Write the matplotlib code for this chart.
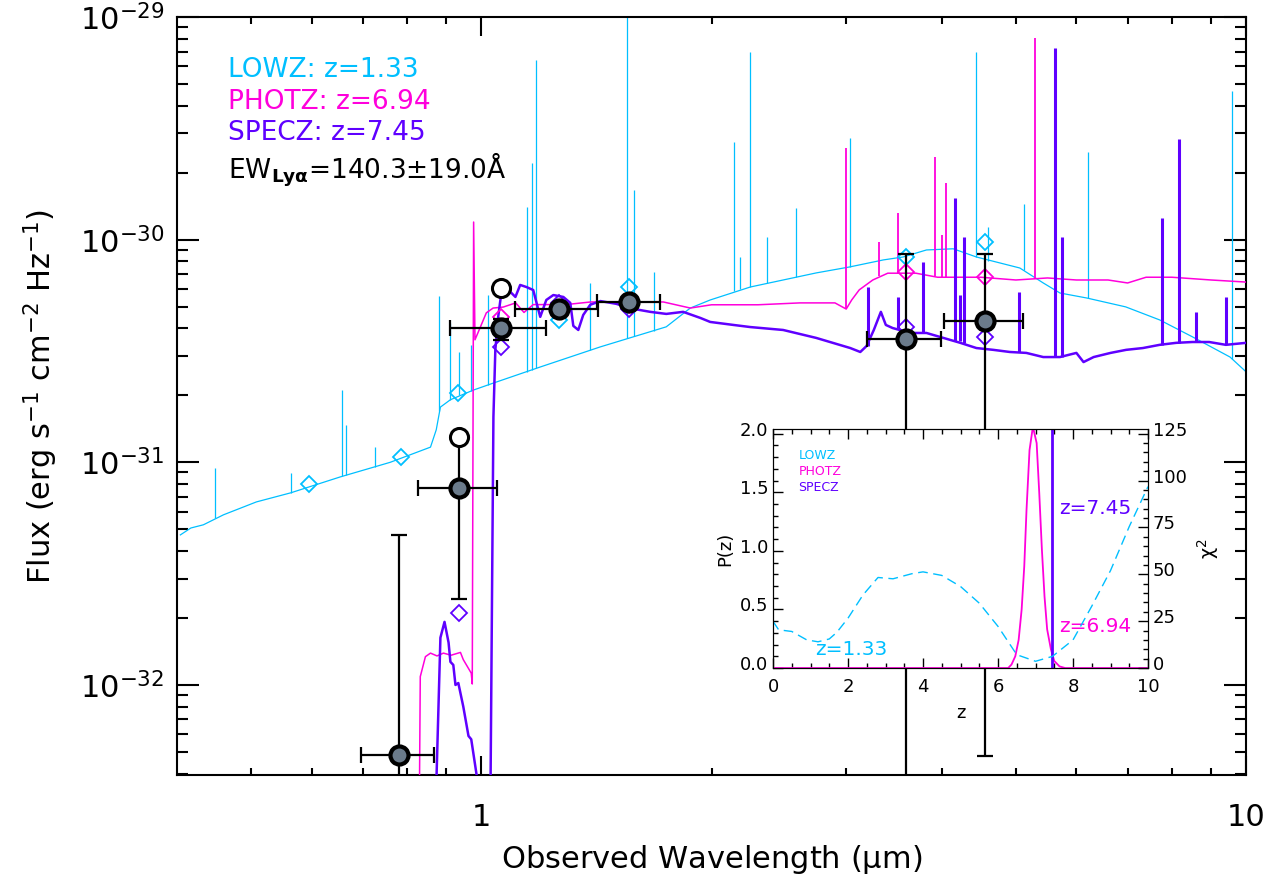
import numpy as np
import matplotlib
matplotlib.use('Agg')
import matplotlib.pyplot as plt
from matplotlib.ticker import FixedLocator, MultipleLocator, NullFormatter, LogLocator, FixedFormatter
from matplotlib.transforms import ScaledTranslation

plt.rcParams['font.family'] = ['DejaVu Sans']
plt.rcParams['mathtext.default'] = 'regular'

C_LOW = '#00bfff'
C_PHOT = '#ff00dc'
C_SPEC = '#5f00ff'
U = 1e-30  # flux unit of the lists below (erg s-1 cm-2 Hz-1)

# ---- LOWZ template, z=1.33 (micron, flux/1e-30)
lowz_wave = [0.404, 0.417, 0.433, 0.460, 0.508, 0.563, 0.654, 0.760, 0.858, 0.873,
             0.884, 0.911, 0.976, 1.037, 1.194, 1.431, 1.745, 1.876, 1.992, 2.248,
             2.741, 3.03, 3.355, 3.56, 3.82, 4.14, 4.44, 5.06, 5.43, 5.71,
             6.19, 6.96, 7.71, 8.51, 9.53, 10.0]
lowz_flux = [0.0472, 0.0507, 0.0524, 0.0581, 0.0664, 0.0729, 0.086, 0.100, 0.117, 0.140,
             0.177, 0.191, 0.211, 0.227, 0.268, 0.330, 0.406, 0.493, 0.536, 0.613,
             0.709, 0.754, 0.811, 0.836, 0.899, 0.91, 0.836, 0.746, 0.639, 0.576,
             0.547, 0.499, 0.436, 0.366, 0.297, 0.255]
# emission lines: wavelength, continuum base, peak
lowz_line_wave = [0.449, 0.563, 0.658, 0.666, 0.727, 0.881, 0.911, 0.936, 0.970, 1.021,
                  1.148, 1.166, 1.180, 1.388, 1.551, 1.585, 1.683, 2.142, 2.18, 2.248,
                  2.365, 2.582, 3.037, 4.44, 4.60, 5.12, 6.22, 9.60]
lowz_line_base = [0.056, 0.073, 0.087, 0.088, 0.095, 0.17, 0.19, 0.20, 0.21, 0.223,
                  0.255, 0.26, 0.264, 0.32, 0.36, 0.37, 0.39, 0.59, 0.60, 0.613,
                  0.64, 0.68, 0.755, 0.84, 0.80, 0.73, 0.545, 0.29]
lowz_line_peak = [0.0944, 0.0896, 0.211, 0.147, 0.117, 0.559, 0.423, 0.313, 0.337, 0.565,
                  1.40, 2.21, 6.41, 0.64, 11.0, 1.67, 0.716, 2.75, 0.836, 6.96,
                  1.03, 1.39, 2.86, 6.96, 1.14, 1.45, 2.48, 4.65]

# ---- PHOTZ template, z=6.94
phot_wave = [0.830, 0.832, 0.845, 0.858, 0.875, 0.892, 0.913, 0.939, 0.947, 0.970,
             0.973, 0.977, 0.981, 0.997, 1.015, 1.036, 1.068, 1.109, 1.137, 1.169,
             1.29, 1.39, 1.55, 1.73, 1.876, 2.0, 2.3, 2.61, 2.90, 3.0,
             3.05, 3.12, 3.25, 3.4, 3.7, 3.95, 4.5, 5.0, 5.5, 6.0,
             6.6, 7.0, 7.4, 8.0, 9.0, 10.0]
phot_flux = [0.0035, 0.0109, 0.0134, 0.0139, 0.0135, 0.0139, 0.0136, 0.0140, 0.0130, 0.0113,
             0.0101, 1.2, 0.355, 0.405, 0.469, 0.493, 0.498, 0.52, 0.471, 0.511,
             0.511, 0.525, 0.525, 0.525, 0.493, 0.51, 0.51, 0.52, 0.52, 0.488,
             0.536, 0.595, 0.659, 0.707, 0.707, 0.678, 0.678, 0.659, 0.673, 0.659,
             0.659, 0.639, 0.678, 0.678, 0.659, 0.645]
phot_line_wave = [3.0, 3.31, 3.51, 3.92, 4.0, 4.05, 5.30]
phot_line_base = [0.49, 0.69, 0.70, 0.69, 0.68, 0.68, 0.665]
phot_line_peak = [2.58, 0.977, 1.32, 2.35, 1.05, 1.8, 8.05]

# ---- SPECZ template, z=7.45
spec_wave = [0.873, 0.884, 0.895, 0.906, 0.911, 0.919, 0.925, 0.933, 0.947, 0.962,
             0.970, 0.991, 1.028, 1.037, 1.043, 1.052, 1.062, 1.068, 1.091, 1.108,
             1.124, 1.145, 1.169, 1.194, 1.216, 1.242, 1.280, 1.307, 1.319, 1.339,
             1.359, 1.388, 1.431, 1.501, 1.580, 1.663, 1.745, 1.836, 1.934, 1.992,
             2.136, 2.248, 2.481, 2.741, 3.037, 3.13, 3.19, 3.26, 3.33, 3.38,
             3.45, 3.64, 3.82, 4.02, 4.23, 4.44, 4.67, 4.91, 5.16, 5.43,
             5.71, 6.00, 6.13, 6.32, 6.65, 6.97, 7.33, 7.71, 8.1, 8.51,
             8.95, 9.41, 10.0]
spec_flux = [0.0035, 0.0163, 0.0192, 0.0155, 0.0127, 0.0123, 0.0100, 0.0102, 0.0080, 0.0059,
             0.0057, 0.0035, 0.0035, 0.16, 0.32, 0.45, 0.577, 0.607, 0.583, 0.553,
             0.626, 0.613, 0.594, 0.45, 0.536, 0.564, 0.553, 0.52, 0.41, 0.393,
             0.459, 0.51, 0.530, 0.515, 0.489, 0.474, 0.464, 0.474, 0.445, 0.427,
             0.414, 0.405, 0.393, 0.362, 0.326, 0.313, 0.333, 0.393, 0.474, 0.414,
             0.401, 0.381, 0.381, 0.362, 0.344, 0.326, 0.320, 0.313, 0.310, 0.297,
             0.297, 0.310, 0.282, 0.297, 0.310, 0.320, 0.326, 0.337, 0.344, 0.347,
             0.347, 0.337, 0.344]
spec_line_wave = [3.2, 3.51, 3.78, 4.16, 4.22, 4.28, 5.04, 5.62, 5.74, 7.76, 8.17, 8.6, 9.4]
spec_line_base = [0.333, 0.40, 0.385, 0.35, 0.35, 0.345, 0.313, 0.297, 0.297, 0.337, 0.344, 0.347, 0.34]
spec_line_peak = [0.613, 0.553, 0.794, 1.54, 0.564, 1.03, 0.583, 7.26, 1.03, 1.25, 2.83, 0.474, 0.553]

# ---- photometry
obs_wave = [0.781, 0.936, 1.062, 1.264, 1.562, 3.594, 4.559]
obs_flux = [0.00485, 0.0767, 0.401, 0.489, 0.525, 0.358, 0.431]
obs_wlo = [0.697, 0.827, 0.911, 1.108, 1.418, 3.196, 4.027]
obs_whi = [0.866, 1.049, 1.216, 1.422, 1.714, 3.993, 5.112]
obs_flo = [0.0001, 0.0243, 0.355, 0.465, 0.495, 0.0001, 0.0048]
obs_fhi = [0.047, 0.126, 0.44, 0.515, 0.555, 0.86, 0.86]
open_wave = [0.936, 1.062]
open_flux = [0.130, 0.607]

# model band fluxes
mod_low_wave = [0.596, 0.784, 0.933, 1.264, 1.562, 3.594, 4.559]
mod_low = [0.080, 0.106, 0.205, 0.436, 0.61, 0.837, 0.98]
mod_wave = [0.936, 1.062, 1.264, 1.562, 3.594, 4.559]
mod_phot = [0.0767, 0.45, 0.49, 0.51, 0.716, 0.68]
mod_spec = [0.021, 0.33, 0.52, 0.49, 0.405, 0.366]

# ---- inset: P(z) and chi2
pz_z = [0, 6.27, 6.36, 6.46, 6.55, 6.63, 6.70, 6.76, 6.84, 6.93, 7.03, 7.10, 7.17,
        7.24, 7.31, 7.41, 7.50, 7.64, 7.79, 10]
pz_p = [0, 0, 0.03, 0.10, 0.24, 0.50, 0.87, 1.35, 1.86, 2.06, 1.92, 1.49, 1.01,
        0.61, 0.33, 0.16, 0.06, 0.014, 0, 0]
chi_z = [0, 0.15, 0.5, 0.9, 1.2, 1.5, 1.7, 2.0, 2.4, 2.8, 3.2, 3.7, 4.0, 4.5, 5.0,
         5.5, 6.0, 6.5, 7.0, 7.45, 8.0, 8.5, 9.0, 9.5, 10]
chi_v = [24.9, 20.4, 19.5, 15.0, 14.0, 15.5, 19.0, 26.6, 39.0, 48.3, 47.6, 50.3, 51.3, 49.4, 43.5,
         34.6, 22.2, 7.1, 3.6, 6.2, 15.0, 33.0, 52.0, 75.5, 96.8]
z_spec = 7.45

fig = plt.figure(figsize=(12.83, 8.82), dpi=100)
ax = fig.add_axes([0.138, 0.1213, 0.8332, 0.8594])

def f(v):
    return np.array(v) * U

ax.plot(lowz_wave, f(lowz_flux), color=C_LOW, lw=0.9, zorder=2)
ax.vlines(lowz_line_wave, f(lowz_line_base), f(lowz_line_peak), color=C_LOW, lw=0.9, zorder=2)
ax.plot(phot_wave, f(phot_flux), color=C_PHOT, lw=1.1, zorder=3)
ax.vlines(phot_line_wave, f(phot_line_base), f(phot_line_peak), color=C_PHOT, lw=1.3, zorder=3)
ax.plot(spec_wave, f(spec_flux), color=C_SPEC, lw=1.8, zorder=4)
ax.vlines(spec_line_wave, f(spec_line_base), f(spec_line_peak), color=C_SPEC, lw=2.2, zorder=4)

dk = dict(ls='none', marker='D', ms=8, mfc='none', mew=1.3, zorder=5)
ax.plot(mod_low_wave, f(mod_low), mec=C_LOW, **dk)
ax.plot(mod_wave, f(mod_phot), mec=C_PHOT, **dk)
ax.plot(mod_wave, f(mod_spec), mec=C_SPEC, **dk)

ow = np.array(obs_wave)
of = f(obs_flux)
xerr = [ow - np.array(obs_wlo), np.array(obs_whi) - ow]
yerr = [of - f(obs_flo), f(obs_fhi) - of]
ax.errorbar(ow, of, xerr=xerr, yerr=yerr, fmt='none', ecolor='black', elinewidth=1.6,
            capsize=6, capthick=1.6, zorder=6)
ax.plot(open_wave, f(open_flux), ls='none', marker='o', ms=13, mfc='white', mec='black',
        mew=2.2, zorder=6)
ax.plot(ow, of, ls='none', marker='o', ms=13, mfc='#6b7b8b', mec='black', mew=3, zorder=7)

ax.set_xscale('log')
ax.set_yscale('log')
ax.set_xlim(0.4, 10)
ax.set_ylim(3.94e-33, 1e-29)
ax.xaxis.set_major_locator(FixedLocator([1, 10]))
ax.xaxis.set_major_formatter(FixedFormatter(['1', '10']))
ax.xaxis.set_minor_locator(FixedLocator([0.5, 0.6, 0.7, 0.8, 0.9, 2, 3, 4, 5, 6, 7, 8, 9]))
ax.xaxis.set_minor_formatter(NullFormatter())
ax.yaxis.set_major_locator(FixedLocator([1e-32, 1e-31, 1e-30, 1e-29]))
ax.yaxis.set_minor_locator(LogLocator(base=10, subs=np.arange(2, 10), numticks=20))
ax.yaxis.set_minor_formatter(NullFormatter())
ax.tick_params(which='both', direction='in', top=True, right=True, width=1.5, labelsize=22)
ax.tick_params(axis='x', which='major', length=14, pad=20)
ax.tick_params(axis='x', which='minor', length=5)
ax.tick_params(axis='y', which='major', length=16, pad=9)
ax.tick_params(axis='y', which='minor', length=8)
for s in ax.spines.values():
    s.set_linewidth(1.5)
ax.set_xlabel(r'Observed Wavelength ($\mu$m)', fontsize=22, labelpad=8)
ax.set_ylabel(r'Flux (erg s$^{-1}$ cm$^{-2}$ Hz$^{-1}$)', fontsize=22, labelpad=14)

fig.text(0.1777, 0.9206, 'LOWZ: z=1.33', color=C_LOW, fontsize=19, va='center')
fig.text(0.1777, 0.8844, 'PHOTZ: z=6.94', color=C_PHOT, fontsize=19, va='center')
fig.text(0.1777, 0.8492, 'SPECZ: z=7.45', color=C_SPEC, fontsize=19, va='center')
fig.text(0.1777, 0.8073, r'EW$_{\mathbf{Ly\alpha}}$=140.3$\pm$19.0Å', color='black',
         fontsize=19, va='center')

# ---- inset
ai = fig.add_axes([0.6025, 0.2426, 0.2923, 0.271])
ai.set_facecolor('white')
ai.plot(pz_z, pz_p, color=C_PHOT, lw=1.3, clip_on=True)
ai.plot([z_spec, z_spec], [0, 2.04], color=C_SPEC, lw=2.0)
ai.set_xlim(0, 10)
ai.set_ylim(0, 2.04)
ai.xaxis.set_major_locator(MultipleLocator(2))
ai.xaxis.set_minor_locator(MultipleLocator(0.5))
ai.yaxis.set_major_locator(MultipleLocator(0.5))
ai.yaxis.set_minor_locator(MultipleLocator(0.1))
ai.yaxis.set_major_formatter(plt.FuncFormatter(lambda v, p: f'{v:.1f}'))
ai.tick_params(which='both', direction='in', top=True, labelsize=13, width=1)
ai.tick_params(which='major', length=7)
ai.tick_params(which='minor', length=3.5)
ai.tick_params(axis='x', pad=7)
ai.set_xlabel('z', fontsize=13, labelpad=6)
ai.set_ylabel('P(z)', fontsize=13, labelpad=4)
ai.text(0.68, 1.81, 'LOWZ', color=C_LOW, fontsize=9, va='center')
ai.text(0.68, 1.68, 'PHOTZ', color=C_PHOT, fontsize=9, va='center')
ai.text(0.68, 1.54, 'SPECZ', color=C_SPEC, fontsize=9, va='center')
ai.text(7.62, 1.36, 'z=7.45', color=C_SPEC, fontsize=14.5, va='center')
ai.text(7.62, 0.355, 'z=6.94', color=C_PHOT, fontsize=14.5, va='center')
ai.text(1.12, 0.156, 'z=1.33', color=C_LOW, fontsize=14.5, va='center')

tw = ai.twinx()
tw.plot(chi_z, chi_v, color=C_LOW, lw=1.0, dashes=(7, 4))
tw.set_ylim(0, 127.5)
tw.yaxis.set_major_locator(MultipleLocator(25))
tw.yaxis.set_minor_locator(MultipleLocator(5))
tw.tick_params(which='both', direction='in', labelsize=13, width=1)
tw.tick_params(which='major', length=7)
tw.tick_params(which='minor', length=3.5)
tw.set_ylabel(r'$\chi^2$', fontsize=14, labelpad=6)

# inset y labels sit a little above their ticks, as in the original
fig.canvas.draw()
up = ScaledTranslation(0, 5 / 100, fig.dpi_scale_trans)
for lbl in ai.get_yticklabels() + tw.get_yticklabels():
    lbl.set_transform(lbl.get_transform() + up)

fig.savefig('out.png', dpi=100)
